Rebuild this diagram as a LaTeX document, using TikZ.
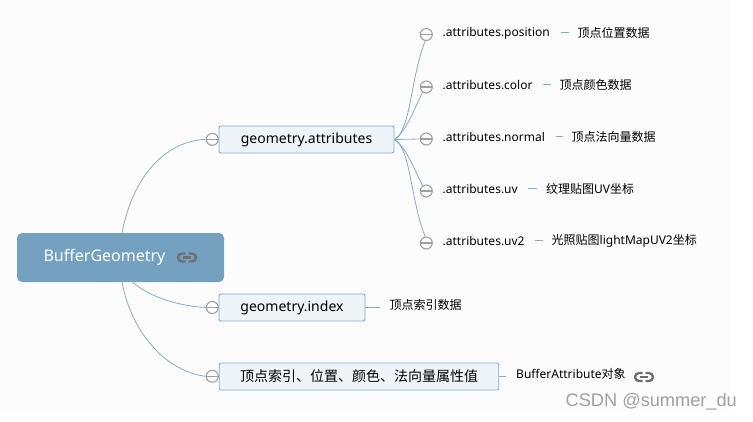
\documentclass[tikz,border=0pt]{standalone}
\usepackage{fontspec}
\setmainfont{Noto Sans}
\newfontfamily\cjk{Noto Sans CJK SC}
\newfontfamily\markfont{Liberation Sans}
\usetikzlibrary{positioning}

\definecolor{rootblue}{HTML}{75A1C0}
\definecolor{linkblue}{HTML}{84ADC9}
\definecolor{boxfill}{HTML}{EFF4F8}
\definecolor{chromebg}{HTML}{FCFCFC}
\definecolor{foldgray}{HTML}{A0A0A0}
\definecolor{chaingray}{HTML}{707070}

\newcommand{\linkicon}[1]{%
  \begin{scope}[shift={#1}]
    \draw[line width=2.4pt, chaingray, rounded corners=4pt] (-1.5,-4) -- (-9,-4) -- (-9,4) -- (-1.5,4);
    \draw[line width=2.4pt, chaingray, rounded corners=4pt] (1.5,-4) -- (9,-4) -- (9,4) -- (1.5,4);
    \draw[line width=2.2pt, chaingray] (-4,0) -- (4,0);
  \end{scope}}

\begin{document}
\begin{tikzpicture}[x=1pt, y=-1pt,
      rootbox/.style={fill=rootblue, rounded corners=5pt, text=white, font=\fontsize{16}{18}\selectfont,
        minimum width=207pt, minimum height=49pt, inner sep=0pt},
      subbox/.style={draw=linkblue, fill=boxfill, line width=0.9pt, rounded corners=2pt, inner sep=0pt,
        font=\fontsize{14}{16}\selectfont, minimum height=27pt},
      fold/.style={circle, draw=foldgray, fill=chromebg, line width=1.1pt, minimum size=12pt, inner sep=0pt,
        path picture={\draw[foldgray, line width=1.1pt] (path picture bounding box.west) -- (path picture bounding box.east);}},
      leaf/.style={anchor=west, inner sep=0pt, font=\fontsize{12}{14}\selectfont},
      link/.style={draw=linkblue, line width=0.8pt},
      tick/.style={link, shorten <=10.5pt, shorten >=9pt, yshift=-2.5pt}
    ]
    \useasboundingbox (0,0) rectangle (753,421);
    \fill[chromebg] (0,0) rectangle (730,412);

    % Wurzel und die drei Hauptzweige
    \node[rootbox] (root) at (120.5,257.5) {\raisebox{5pt}{\hspace{-32pt}BufferGeometry}};
    \linkicon{(187,257.5)}

    \node[subbox, minimum width=175pt] (attrs) at (306.5,139.5) {\raisebox{3pt}{geometry.attributes}};
    \node[subbox, minimum width=146pt] (index) at (292,307.5) {\raisebox{3pt}{geometry.index}};
    \node[subbox, minimum width=279.5pt] (values) at (359,376.5) {\raisebox{2.5pt}{\cjk 顶点索引、位置、颜色、法向量属性值}};

    \node[fold] (fattrs) at (212.3,139.3) {};
    \node[fold] (findex) at (212.3,307.5) {};
    \node[fold] (fvalues) at (212.3,376.3) {};

    \draw[link] ([xshift=1.5pt]root.north) .. controls (134,172) and (168,141) .. (fattrs.west);
    \draw[link] ([xshift=12pt]root.south) .. controls (150,297) and (178,306) .. (findex.west);
    \draw[link] ([xshift=1.5pt]root.south) .. controls (132,335) and (168,372) .. (fvalues.west);

    % Kindknoten von geometry.attributes
    \node[fold] (f1) at (426.3,34.5) {};
    \node[fold] (f2) at (426.3,87) {};
    \node[fold] (f3) at (426.3,139) {};
    \node[fold] (f4) at (426.3,191) {};
    \node[fold] (f5) at (426.3,243) {};

    \draw[link] (attrs.east) .. controls (411,130) and (410,80) .. (f1.260);
    \draw[link] (attrs.east) .. controls (405,133) and (413,112) .. (f2.235);
    \draw[link] (attrs.east) -- (f3.west);
    \draw[link] (attrs.east) .. controls (405,146) and (413,166) .. (f4.125);
    \draw[link] (attrs.east) .. controls (411,149) and (410,198) .. (f5.100);

    \node[leaf] (a1) at (442.5,33.2) {.attributes.position};
    \node[leaf] (a2) at (442.5,85.2) {.attributes.color};
    \node[leaf] (a3) at (442.5,137.2) {.attributes.normal};
    \node[leaf] (a4) at (442.5,189.2) {.attributes.uv};
    \node[leaf] (a5) at (442.5,241.2) {.attributes.uv2};

    \node[leaf] (d1) at (577.5,32.5) {\cjk 顶点位置数据};
    \node[leaf] (d2) at (559.5,84.5) {\cjk 顶点颜色数据};
    \node[leaf] (d3) at (571.5,136.5) {\cjk 顶点法向量数据};
    \node[leaf] (d4) at (546,188.5) {{\cjk 纹理贴图}UV{\cjk 坐标}};
    \node[leaf] (d5) at (551.5,240.5) {{\cjk 光照贴图}lightMapUV2{\cjk 坐标}};

    \draw[tick] (a1.east |- d1.west) -- (d1.west);
    \draw[tick] (a2.east |- d2.west) -- (d2.west);
    \draw[tick] (a3.east |- d3.west) -- (d3.west);
    \draw[tick] (a4.east |- d4.west) -- (d4.west);
    \draw[tick] (a5.east |- d5.west) -- (d5.west);

    % Blaetter der unteren Zweige
    \node[leaf] (iddata) at (389.5,304.5) {\cjk 顶点索引数据};
    \node[leaf] (bufattr) at (516,373.5) {BufferAttribute{\cjk 对象}};
    \linkicon{(644,377)}

    \draw[link, shorten >=10pt] (index.east) -- (iddata.west |- index.east);
    \draw[link, shorten >=10pt] (values.east) -- (bufattr.west |- values.east);

    \node[anchor=west, inner sep=0pt, text=foldgray, font=\markfont\fontsize{18.2}{21}\selectfont] (mark) at (565.5,402) {CSDN @summer\_du};
  \end{tikzpicture}
\end{document}
